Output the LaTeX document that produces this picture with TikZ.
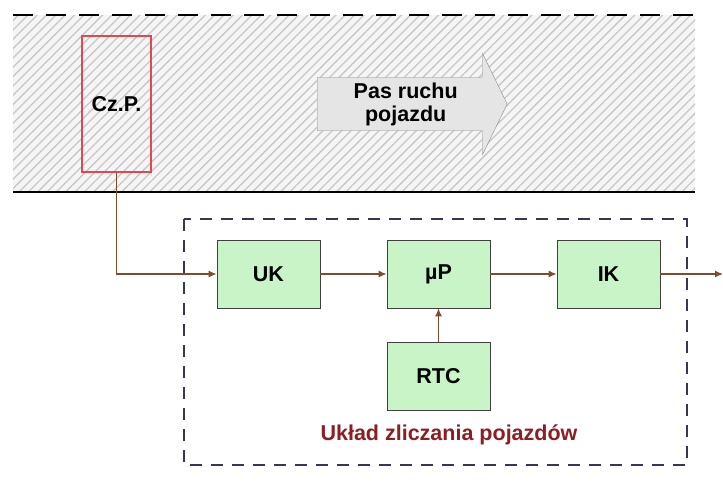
\documentclass[tikz,border=0pt]{standalone}
\usepackage{fontspec}
\setmainfont{Liberation Sans}
\usepackage{tikz}
\usetikzlibrary{arrows.meta,shapes.arrows,patterns.meta}
\usetikzlibrary{positioning}
\definecolor{zielony}{RGB}{200,244,200}
\definecolor{braz}{RGB}{128,76,46}
\definecolor{granat}{RGB}{52,56,84}
\definecolor{czerw}{RGB}{226,72,80}
\definecolor{napis}{RGB}{140,30,36}
\tikzset{
    blok/.style={
           rectangle,
           draw=black!75, thick,
           fill=zielony,
           minimum width=103pt,
           minimum height=68pt,
           font=\bfseries,
           text centered,
           },
    pol/.style={
           -{Latex[length=8pt,width=7pt]},
           draw=braz,
           line width=1.2pt,
           },
    czujnik/.style={
           rectangle,
           draw=czerw, line width=1.3pt,
           minimum width=69pt,
           minimum height=136pt,
           font=\bfseries,
           },
    pas/.style={
           single arrow,
           draw=black!45,
           fill=black!10,
           minimum height=190pt,
           single arrow head extend=24pt,
           single arrow tip angle=128,
           inner sep=5pt,
           align=center,
           font=\bfseries,
           }
}

\begin{document}
\begin{tikzpicture}[x=1pt,y=-1pt,>=Latex]
\fontsize{21.5}{23}\selectfont
\useasboundingbox[fill=white] (0,0) rectangle (723,491);
% pas ruchu
\fill[black!4] (13,15) rectangle (695,192);
\fill[pattern={Lines[angle=45,distance=6.6pt,line width=1.3pt]},pattern color=black!22] (13,15) rectangle (695,192);
\draw[line width=2.6pt,dash pattern=on 20pt off 13pt] (13,15) -- (695,15);
\draw[line width=2.6pt] (13,192) -- (695,192);
\node[czujnik] (cz) at (116.5,104) {Cz.P.};
\node[pas,anchor=tail] (kier) at (317,104) {Pas ruchu\\pojazdu};
% uklad zliczania
\draw[granat,line width=2pt,dash pattern=on 12pt off 9pt] (184,219) rectangle (687,465);
\node[blok] (uk) at (268.5,274) {UK};
\node[blok] (mp) at (438.5,274) {µP};
\node[blok] (ik) at (608.5,274) {IK};
\node[blok] (rtc) at (438.5,376.5) {RTC};
\node[text=napis,font=\bfseries] (opis) at (449,435) {Układ zliczania pojazdów};
\coordinate (wyj) at (723,274);
\draw[pol] (cz.south) |- (uk.west);
\path (uk) edge[pol] (mp);
\path (mp) edge[pol] (ik);
\path (rtc) edge[pol] (mp);
\path (ik) edge[pol] (wyj);
\end{tikzpicture}
\end{document}
